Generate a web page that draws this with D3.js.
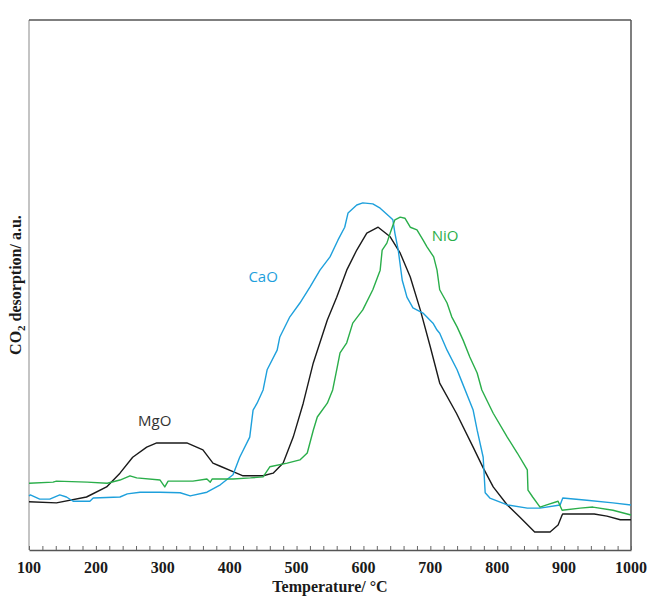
<!doctype html>
<html>
    <head>
        <style>
            body {margin:0; background:#fff}
            svg {width:649px; height:597px; display:block}
            .curve {fill:none; stroke-width:1.4; stroke-linejoin:round}
            .tick-label {font-family:"Liberation Serif", "Times New Roman", serif; font-weight:bold; font-size:16px; fill:#1a1a1a}
            .axis-title {font-family:"Liberation Serif", "Times New Roman", serif; font-weight:bold; font-size:16px; fill:#1a1a1a}
            .series-label {font-family:"Open Sans", "Liberation Sans", sans-serif; font-size:15px}
        </style>
        <script src="https://d3js.org/d3.v7.min.js"></script>
    </head>
    <body>
        <script>
            // temperature / intensity pairs
            var mgoData = [[100,9.1],[141,8.9],[186,10.0],[216,11.9],[236,14.5],[255,17.5],[276,19.4],[291,20.2],[336,20.2],
                [360,18.9],[375,16.4],[386,15.8],[405,14.8],[420,14.0],[450,14.0],[465,14.5],[480,16.4],[495,21.3],[510,27.7],
                [525,35.3],[546,43.4],[560,47.7],[575,52.8],[590,56.6],[605,59.8],[622,60.9],[640,59.1],[655,56.0],[670,51.5],
                [685,45.3],[700,38.3],[714,31.5],[739,25.8],[764,19.4],[779,15.5],[794,11.9],[815,8.5],[834,6.2],[856,3.4],
                [879,3.4],[891,4.7],[897,6.6],[898,6.8],[945,6.8],[964,6.4],[984,5.7],[1000,5.7]];

            var caoData = [[100,10.2],[102,10.4],[116,9.6],[131,9.6],[146,10.4],[156,10.0],[166,9.2],[191,9.2],[196,9.8],
                [236,10.0],[247,10.6],[266,10.9],[296,10.9],[326,10.8],[341,10.2],[366,10.9],[386,12.3],[405,14.2],[415,17.5],
                [430,21.3],[435,26.4],[441,27.7],[450,30.2],[456,34.0],[471,37.7],[475,40.2],[490,44.0],[505,46.6],[520,49.6],
                [535,52.8],[550,55.3],[562,58.5],[572,60.9],[577,63.6],[590,65.1],[599,65.5],[614,65.3],[625,64.5],[640,62.8],
                [644,62.3],[647,59.8],[652,56.6],[658,50.9],[662,49.1],[665,47.7],[674,45.7],[689,44.7],[704,42.8],[710,41.5],
                [714,40.9],[725,37.7],[740,34.0],[746,32.1],[764,26.4],[770,22.6],[779,17.5],[782,10.8],[789,9.8],[815,8.5],
                [845,7.9],[864,7.9],[894,8.5],[898,9.8],[934,9.4],[973,8.9],[1000,8.5]];

            var nioData = [[100,12.6],[136,12.8],[141,13.0],[187,12.8],[217,12.6],[236,13.2],[251,14.0],[261,13.6],[296,13.2],
                [303,11.9],[308,13.0],[345,13.0],[366,13.4],[371,12.8],[374,13.4],[405,13.4],[431,13.6],[450,13.8],[460,15.7],
                [486,16.4],[505,17.0],[516,18.3],[525,22.6],[531,25.1],[546,27.7],[554,30.2],[560,34.0],[565,37.2],[575,39.1],
                [584,42.8],[599,45.3],[614,49.1],[625,52.8],[628,56.6],[635,57.9],[640,59.8],[647,62.3],[655,62.8],[662,62.6],
                [670,60.9],[680,60.4],[689,58.5],[695,57.2],[705,55.3],[710,52.8],[714,49.1],[725,46.6],[732,44.0],[740,42.1],
                [749,39.6],[759,36.4],[770,33.4],[777,30.2],[794,25.8],[815,21.3],[830,18.3],[845,15.1],[846,11.3],[853,10.0],
                [864,8.1],[874,8.5],[891,9.2],[897,7.5],[924,7.9],[943,8.1],[973,7.5],[1000,6.6]];

            var seriesNames = ["MgO","CaO","NiO"];
            var seriesColors = ["#1a1a1a","#1ea0dc","#2aae4a"];
            var xTicks = [100,200,300,400,500,600,700,800,900,1000];

            //globals (plot box)
            var padL=29, padR=631, padT=20, padB=550;

            var x = d3.scaleLinear().domain([100,1000]).range([padL,padR]);
            var y = d3.scaleLinear().domain([0,100]).range([padB,padT]);

            var svgDoc = d3.select("body").append("svg");

            //frame
            svgDoc.append("line").attr("x1",padL).attr("x2",padL).attr("y1",padT).attr("y2",padB)
                .attr("stroke","#b0b0b0").attr("stroke-width",1.5);
            svgDoc.append("line").attr("x1",padL).attr("x2",padR).attr("y1",padT).attr("y2",padT)
                .attr("stroke","#555").attr("stroke-width",1.5);
            svgDoc.append("line").attr("x1",padR).attr("x2",padR).attr("y1",padT).attr("y2",padB)
                .attr("stroke","#555").attr("stroke-width",1.5);

            //x axis with inward ticks
            var axis = svgDoc.append("g").attr("transform","translate(0,"+padB+")")
                .call(d3.axisBottom(x).tickValues(d3.range(100,1001,20)).tickSizeInner(-4).tickSizeOuter(0).tickFormat(""));
            axis.select(".domain").attr("stroke","#555").attr("stroke-width",1.5);
            axis.selectAll(".tick line").attr("stroke","#666");

            svgDoc.append("g").selectAll("text")
                .data(xTicks)
                .enter()
                .append("text")
                .attr("class","tick-label")
                .attr("x",function(d){return x(d)})
                .attr("y",padB+23)
                .attr("text-anchor","middle")
                .text(function(d){return d});

            svgDoc.append("text").attr("class","axis-title")
                .attr("x",(padL+padR)/2).attr("y",592).attr("text-anchor","middle")
                .text("Temperature/ °C");

            var yTitle = svgDoc.append("text").attr("class","axis-title")
                .attr("transform","translate(21,285) rotate(-90)").attr("text-anchor","middle");
            yTitle.append("tspan").text("CO");
            yTitle.append("tspan").attr("font-size","11px").attr("dy",4).text("2");
            yTitle.append("tspan").attr("dy",-4).text(" desorption/ a.u.");

            //curves
            var line = d3.line().x(function(d){return x(d[0])}).y(function(d){return y(d[1])});
            var allData = [mgoData,caoData,nioData];
            svgDoc.append("g").selectAll("path")
                .data(allData)
                .enter()
                .append("path")
                .attr("class","curve")
                .attr("stroke",function(d,i){return seriesColors[i]})
                .attr("d",line);

            //series labels
            var labelPos = [[288,24.3],[450,51.5],[722,59.2]];
            svgDoc.append("g").selectAll("text")
                .data(seriesNames)
                .enter()
                .append("text")
                .attr("class","series-label")
                .attr("x",function(d,i){return x(labelPos[i][0])})
                .attr("y",function(d,i){return y(labelPos[i][1])})
                .attr("dy","0.35em")
                .attr("text-anchor","middle")
                .attr("fill",function(d,i){return i==0 ? "#333" : seriesColors[i]})
                .text(function(d){return d});
        </script>
    </body>
</html>
